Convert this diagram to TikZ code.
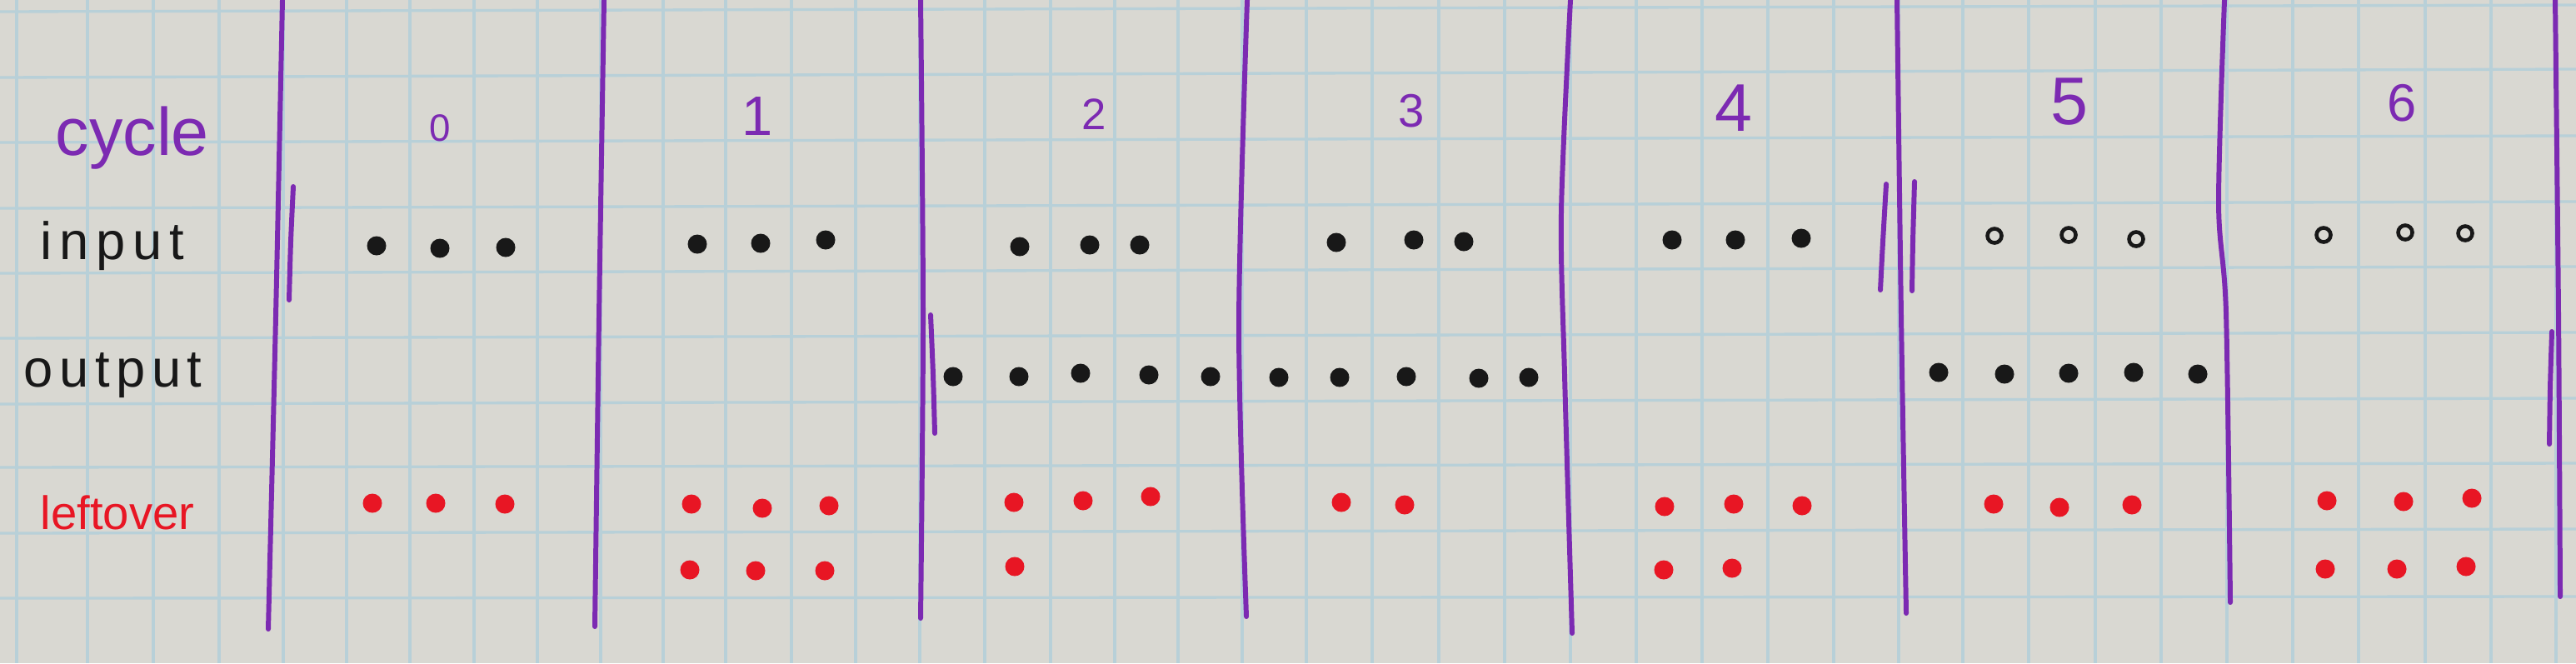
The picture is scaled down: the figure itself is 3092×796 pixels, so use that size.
\documentclass[tikz,border=0pt]{standalone}
\usepackage{fontspec}
\newfontfamily\hand{Liberation Sans}
\newfontfamily\handi[LetterSpace=14]{Liberation Sans}
\newfontfamily\hando[LetterSpace=12]{Liberation Sans}
\definecolor{paper}{RGB}{217,216,210}
\definecolor{gridc}{RGB}{184,208,216}
\definecolor{pen}{RGB}{124,42,178}
\definecolor{redpen}{RGB}{232,22,36}
\definecolor{ink}{RGB}{24,24,24}
\begin{document}
\begin{tikzpicture}[x=0.01cm,y=-0.01cm,
  gridline/.style={gridc, line width=0.95pt},
  bar/.style={pen, line width=1.7pt, line cap=round, line join=round},
  blackdot/.style={circle, fill=ink, inner sep=0pt, minimum size=0.23cm},
  opendot/.style={circle, draw=ink, line width=1.3pt, inner sep=0pt, minimum size=0.17cm},
  reddot/.style={circle, fill=redpen, inner sep=0pt, minimum size=0.23cm},
  rowlabel/.style={anchor=base west, inner sep=0pt},
  num/.style={inner sep=0pt, text=pen}]
\useasboundingbox (0,0) rectangle (3092,796);
\fill[paper] (0,0) rectangle (3092,796);
% graph paper
\foreach \gx in {20,105,184,263,340,416,492,569,645,721,796,871,950,1027,1104,1182,1261,1338,1414,1491,1568,1647,1727,1806,1885,1964,2043,2122,2201,2279,2356,2435,2515,2594,2673,2752,2831,2911,2990,3068}
  \draw[gridline] (\gx,0) -- (\gx,796);
\foreach \ya/\yb in {14/6,93/83,171/163,250/242,328/320,406/399,485/478,561/556,640/635,718/716}
  \draw[gridline] (0,\ya) -- (3092,\yb);
% row labels
\node[rowlabel, text=pen, font=\hand\fontsize{23}{28}\selectfont] (lcycle) at (66,186) {cycle};
\node[rowlabel, text=ink, font=\handi\fontsize{18}{22}\selectfont] (linput) at (48,311) {input};
\node[rowlabel, text=ink, font=\hando\fontsize{18}{22}\selectfont] (loutput) at (28,464) {output};
\node[rowlabel, text=redpen, font=\hand\fontsize{16}{20}\selectfont] (lleft) at (48,635) {leftover};
% cycle numbers
\node[num, font=\hand\fontsize{13}{16}\selectfont] (c0) at (528,154) {0};
\node[num, font=\hand\fontsize{19}{23}\selectfont] (c1) at (909,140) {1};
\node[num, font=\hand\fontsize{15}{18}\selectfont] (c2) at (1313,137) {2};
\node[num, font=\hand\fontsize{16}{19}\selectfont] (c3) at (1694,133) {3};
\node[num, font=\hand\fontsize{23}{28}\selectfont] (c4) at (2081,130) {4};
\node[num, font=\hand\fontsize{23}{28}\selectfont] (c5) at (2484,122) {5};
\node[num, font=\hand\fontsize{18}{22}\selectfont] (c6) at (2883,124) {6};
% purple separators
\draw[bar] plot[smooth] coordinates {(339,0) (331,380) (322,755)};
\draw[bar] plot[smooth] coordinates {(352,224) (349,290) (347,360)};
\draw[bar] plot[smooth] coordinates {(725,0) (719,380) (714,752)};
\draw[bar] plot[smooth] coordinates {(1105,0) (1108,380) (1105,742)};
\draw[bar] plot[smooth] coordinates {(1117,378) (1120,450) (1122,520)};
\draw[bar] plot[smooth] coordinates {(1497,0) (1487,390) (1496,740)};
\draw[bar] plot[smooth] coordinates {(1885,0) (1874,254) (1878,450) (1887,760)};
\draw[bar] plot[smooth] coordinates {(2277,0) (2282,380) (2288,736)};
\draw[bar] plot[smooth] coordinates {(2264,221) (2260,290) (2257,348)};
\draw[bar] plot[smooth] coordinates {(2298,218) (2296,290) (2295,349)};
\draw[bar] plot[smooth] coordinates {(2670,0) (2663,244) (2672,376) (2677,723)};
\draw[bar] plot[smooth] coordinates {(3067,0) (3071,380) (3073,716)};
\draw[bar] plot[smooth] coordinates {(3063,398) (3061,465) (3060,533)};
% input row
\foreach \x/\y [count=\i] in {452/295,528/298,607/297} \node[blackdot] (in0-\i) at (\x,\y) {};
\foreach \x/\y [count=\i] in {837/293,913/292,991/288} \node[blackdot] (in1-\i) at (\x,\y) {};
\foreach \x/\y [count=\i] in {1224/296,1308/294,1368/294} \node[blackdot] (in2-\i) at (\x,\y) {};
\foreach \x/\y [count=\i] in {1604/291,1697/288,1757/290} \node[blackdot] (in3-\i) at (\x,\y) {};
\foreach \x/\y [count=\i] in {2007/288,2083/288,2162/286} \node[blackdot] (in4-\i) at (\x,\y) {};
\foreach \x/\y [count=\i] in {2394/283,2483/282,2564/287} \node[opendot] (in5-\i) at (\x,\y) {};
\foreach \x/\y [count=\i] in {2789/282,2887/279,2959/280} \node[opendot] (in6-\i) at (\x,\y) {};
% output row
\foreach \x/\y [count=\i] in {1144/452,1223/452,1297/448,1379/450,1453/452} \node[blackdot] (out2-\i) at (\x,\y) {};
\foreach \x/\y [count=\i] in {1535/453,1608/453,1688/452,1775/454,1835/453} \node[blackdot] (out3-\i) at (\x,\y) {};
\foreach \x/\y [count=\i] in {2327/447,2406/449,2483/448,2561/447,2638/449} \node[blackdot] (out5-\i) at (\x,\y) {};
% leftover rows
\foreach \x/\y [count=\i] in {447/604,523/604,606/605} \node[reddot] (lo0-\i) at (\x,\y) {};
\foreach \x/\y [count=\i] in {830/605,915/610,995/607,828/684,907/685,990/685} \node[reddot] (lo1-\i) at (\x,\y) {};
\foreach \x/\y [count=\i] in {1217/603,1300/601,1381/596,1218/680} \node[reddot] (lo2-\i) at (\x,\y) {};
\foreach \x/\y [count=\i] in {1610/603,1686/606} \node[reddot] (lo3-\i) at (\x,\y) {};
\foreach \x/\y [count=\i] in {1998/608,2081/605,2163/607,1997/684,2079/682} \node[reddot] (lo4-\i) at (\x,\y) {};
\foreach \x/\y [count=\i] in {2393/605,2472/609,2559/606} \node[reddot] (lo5-\i) at (\x,\y) {};
\foreach \x/\y [count=\i] in {2793/601,2885/602,2967/598,2791/683,2877/683,2960/680} \node[reddot] (lo6-\i) at (\x,\y) {};
\end{tikzpicture}
\end{document}
